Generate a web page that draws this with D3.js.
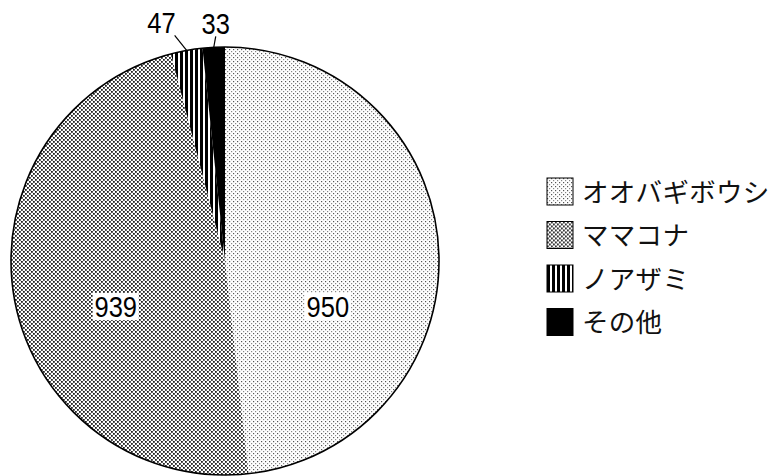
<!DOCTYPE html>
<html>
  <head>
    <meta charset="utf-8">
    <script src="https://d3js.org/d3.v7.min.js"></script>
    <style>
      body { margin: 0; background: #fff; }
      .num { font-family: "Liberation Sans", sans-serif; font-size: 30px; fill: #000; }
      .leg { font-family: "Noto Sans CJK JP", sans-serif; font-size: 26.5px; fill: #111; letter-spacing: 0.3px; }
    </style>
  </head>
  <body>
    <div id="chart"></div>
    <script>
      // data
      var names = ["オオバギボウシ", "ママコナ", "ノアザミ", "その他"];
      var counts = [950, 939, 47, 33];
      var fills = ["url(#dotsLight)", "url(#dotsDense)", "url(#stripes)", "#000"];

      var width = 773, height = 476;
      var cx = 225, cy = 261, radius = 214;

      var svg = d3.select("#chart").append("svg")
        .attr("width", width)
        .attr("height", height);

      // patterns to mimic the print textures
      var defs = svg.append("defs");
      var p1 = defs.append("pattern").attr("id", "dotsLight")
        .attr("patternUnits", "userSpaceOnUse").attr("width", 4).attr("height", 4);
      p1.append("rect").attr("width", 4).attr("height", 4).attr("fill", "#fff");
      p1.append("rect").attr("x", 0).attr("y", 0).attr("width", 1.2).attr("height", 1.2).attr("fill", "#555");
      p1.append("rect").attr("x", 2).attr("y", 2).attr("width", 1.2).attr("height", 1.2).attr("fill", "#888");

      var p2 = defs.append("pattern").attr("id", "dotsDense")
        .attr("patternUnits", "userSpaceOnUse").attr("width", 4).attr("height", 4);
      p2.append("rect").attr("width", 4).attr("height", 4).attr("fill", "#fff");
      p2.append("rect").attr("x", 0).attr("y", 0).attr("width", 1.8).attr("height", 1.8).attr("fill", "#222");
      p2.append("rect").attr("x", 2).attr("y", 2).attr("width", 1.8).attr("height", 1.8).attr("fill", "#222");

      var p3 = defs.append("pattern").attr("id", "stripes")
        .attr("patternUnits", "userSpaceOnUse").attr("width", 5).attr("height", 5);
      p3.append("rect").attr("width", 5).attr("height", 5).attr("fill", "#fff");
      p3.append("rect").attr("x", 0).attr("width", 3).attr("height", 5).attr("fill", "#000");

      var pie = d3.pie().sort(null).value(function (d) { return d; });
      var arcs = pie(counts);

      var arc = d3.arc().innerRadius(0).outerRadius(radius);
      var labelArc = d3.arc().innerRadius(radius * 0.5).outerRadius(radius * 0.5);

      var g = svg.append("g").attr("transform", "translate(" + cx + "," + cy + ")");

      g.selectAll("path.slice")
        .data(arcs)
        .enter()
        .append("path")
        .attr("class", "slice")
        .attr("d", arc)
        .attr("fill", function (d, i) { return fills[i]; });

      // outline of the whole pie
      g.append("circle").attr("r", radius)
        .attr("fill", "none").attr("stroke", "#000").attr("stroke-width", 1.6);

      // big labels inside, with a white box behind
      arcs.slice(0, 2).forEach(function (d) {
        var c = labelArc.centroid(d);
        var lg = g.append("g").attr("transform", "translate(" + (c[0] - 4) + "," + 45 + ")");
        lg.append("rect").attr("x", -23).attr("y", -13).attr("width", 46).attr("height", 27).attr("fill", "#fff");
        lg.append("text").attr("class", "num")
          .attr("text-anchor", "middle").attr("dy", "0.36em")
          .attr("transform", "scale(0.85,1)")
          .text(d.value);
      });

      // small slices: leader lines and labels outside
      var offsets = [null, null, [-12, -15], [2, -11]];
      arcs.forEach(function (d, i) {
        if (!offsets[i]) return;
        var a = (d.startAngle + d.endAngle) / 2;
        var x0 = Math.sin(a) * radius, y0 = -Math.cos(a) * radius;
        var x1 = x0 + offsets[i][0], y1 = y0 + offsets[i][1];
        g.append("line")
          .attr("x1", x0).attr("y1", y0).attr("x2", x1).attr("y2", y1)
          .attr("stroke", "#000").attr("stroke-width", 1.2);
        g.append("text").attr("class", "num")
          .attr("transform", "translate(" + (i === 2 ? x1 + 1 : x1) + "," + (y1 - 2) + ") scale(0.85,1)")
          .attr("text-anchor", i === 2 ? "end" : "middle")
          .text(d.value);
      });

      // legend
      var leg = svg.append("g").attr("transform", "translate(547,178)");
      var item = leg.selectAll("g")
        .data(names)
        .enter()
        .append("g")
        .attr("transform", function (d, i) { return "translate(0," + i * 43.5 + ")"; });
      item.append("rect")
        .attr("width", 26).attr("height", 27)
        .attr("fill", function (d, i) { return fills[i]; })
        .attr("stroke", "#000").attr("stroke-width", 1);
      item.append("text").attr("class", "leg")
        .attr("x", 35).attr("y", 14).attr("dy", "0.36em")
        .text(function (d) { return d; });
    </script>
  </body>
</html>
